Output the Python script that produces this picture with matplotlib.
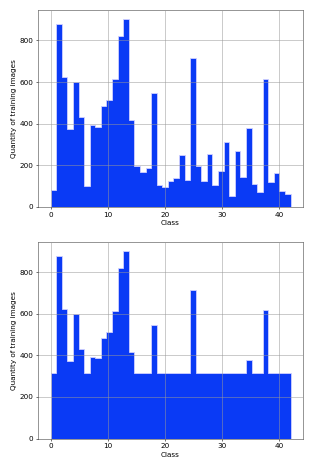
import matplotlib
matplotlib.use("Agg")
from matplotlib import pyplot as plt
import numpy as np

classes = np.arange(43)
counts_before = [82, 880, 624, 373, 600, 432, 102, 394, 386, 485,
                 514, 613, 821, 901, 416, 195, 166, 189, 546, 107,
                 93, 122, 138, 248, 128, 714, 198, 123, 254, 104,
                 174, 314, 51, 270, 144, 378, 112, 72, 616, 118,
                 162, 78, 61]
counts_after = [316, 880, 624, 373, 600, 432, 316, 394, 386, 485,
                514, 613, 821, 901, 416, 316, 316, 316, 546, 316,
                316, 316, 316, 316, 316, 714, 316, 316, 316, 316,
                316, 316, 316, 316, 316, 378, 316, 316, 616, 316,
                316, 316, 316]

fig = plt.figure(figsize=(6.24, 9.4), dpi=50)
ax1 = fig.add_axes([0.122, 0.56, 0.848, 0.418])
ax2 = fig.add_axes([0.122, 0.067, 0.848, 0.418])

for ax, counts in [(ax1, counts_before), (ax2, counts_after)]:
    ax.hist(classes, bins=43, weights=counts, histtype="stepfilled",
            facecolor="#0a3af5", edgecolor="#d0d0ff", linewidth=1.2)
    ax.set_axisbelow(False)
    ax.grid(True, color="#999999", alpha=0.6, linewidth=1.2)
    ax.set_xlim(-2.2, 44.1)
    ax.set_ylim(0, 945)
    ax.set_xlabel("Class", fontsize=10.5)
    ax.set_ylabel("Quantity of training images", fontsize=10.5)
    ax.tick_params(labelsize=10.5)
    for s in ax.spines.values():
        s.set_color("#444444")

fig.savefig("out.png", dpi=50)
